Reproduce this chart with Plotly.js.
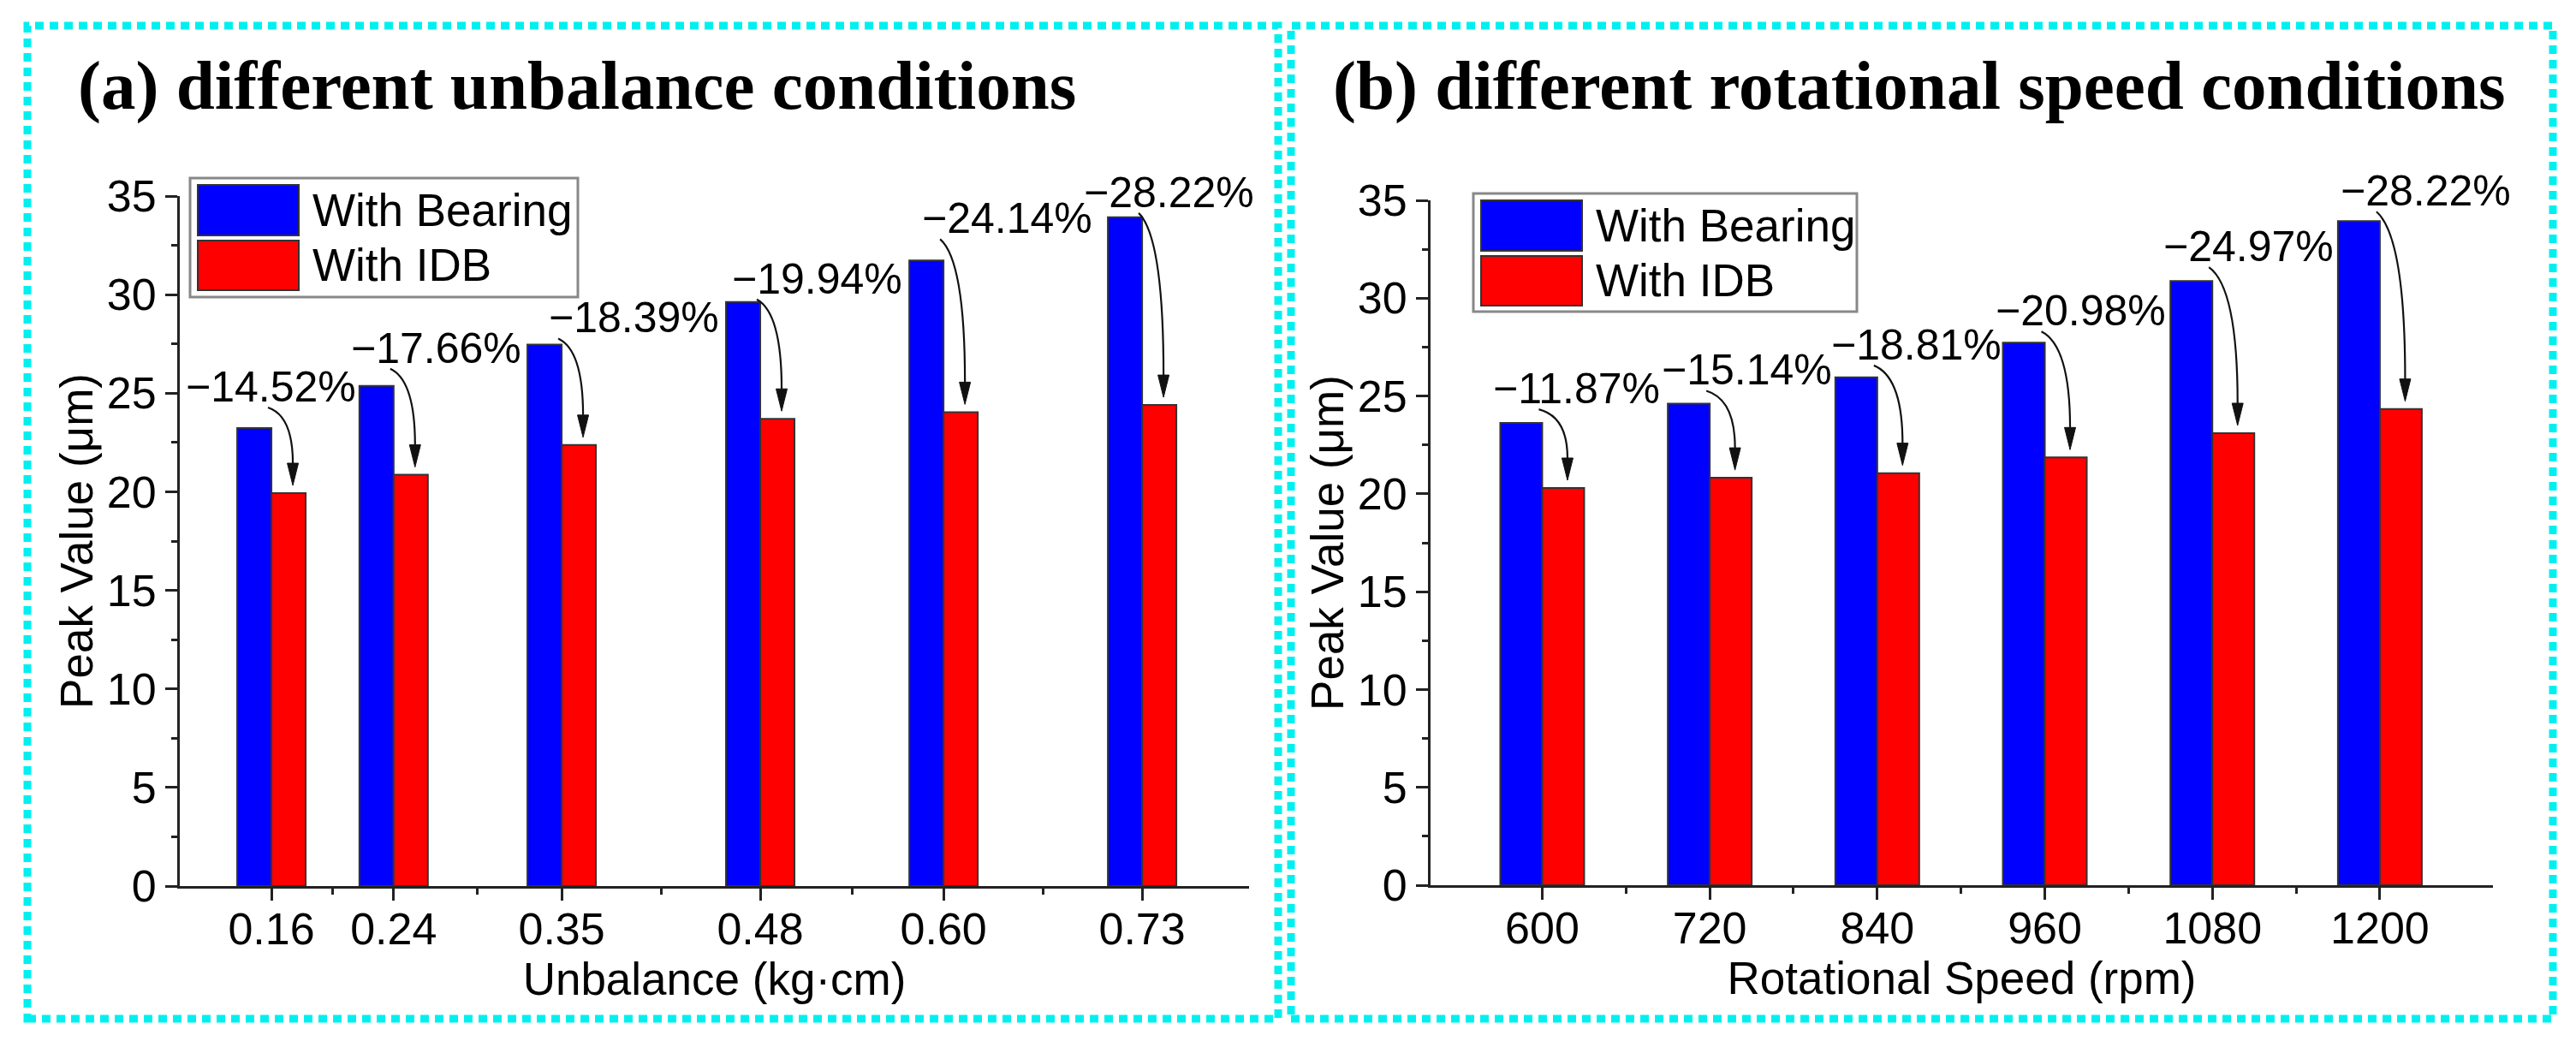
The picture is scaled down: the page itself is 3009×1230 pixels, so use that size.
<!DOCTYPE html>
<html><head><meta charset="utf-8">
<script src="https://cdn.plot.ly/plotly-3.0.1.min.js"></script>
<style>html,body{margin:0;padding:0;background:#fff}#chart{width:3009px;height:1230px}</style>
</head><body><div id="chart"></div>
<script>
// ---------------- data ----------------
const unbalance = [0.16, 0.24, 0.35, 0.48, 0.60, 0.73];
const unbalanceLabels = ['0.16', '0.24', '0.35', '0.48', '0.60', '0.73'];
const bearingUnbalance = [23.23, 25.37, 27.47, 29.63, 31.73, 33.92];
const idbUnbalance = [19.93, 20.86, 22.37, 23.70, 24.04, 24.40];
const reductionUnbalance = ['−14.52%', '−17.66%', '−18.39%', '−19.94%', '−24.14%', '−28.22%'];

const speed = [600, 720, 840, 960, 1080, 1200];
const speedLabels = ['600', '720', '840', '960', '1080', '1200'];
const bearingSpeed = [23.62, 24.61, 25.95, 27.73, 30.88, 33.94];
const idbSpeed = [20.30, 20.82, 21.06, 21.86, 23.10, 24.34];
const reductionSpeed = ['−11.87%', '−15.14%', '−18.81%', '−20.98%', '−24.97%', '−28.22%'];

const seriesNames = ['With Bearing', 'With IDB'];
const panelTitles = ['(a) different unbalance conditions', '(b) different rotational speed conditions'];
const xTitles = ['Unbalance (kg·cm)', 'Rotational Speed (rpm)'];
const yTitle = 'Peak Value (μm)';

// ---------------- layout geometry / style ----------------
const W = 3009, H = 1230;
const FONT = 'Liberation Sans, Arial, sans-serif';
const SERIF = 'Liberation Serif, Times New Roman, serif';
const BLUE = '#0000FF', RED = '#FF0000', INK = '#222222';
const YMAX = 35;

const panels = [
  { x: unbalance, labels: unbalanceLabels, b: bearingUnbalance, r: idbUnbalance, red: reductionUnbalance,
    xPx: [210, 1459], yPx: [1035, 229], xRange: [0.1, 0.8], barPx: 40,
    labelDx: [-1, 50, 84, 66, 74, 31], labelGap: [30, 26, 13, 9, 31, 11],
    legend: { left: 222, top: 208, w: 453, h: 139 }, frame: [32, 30, 1493, 1190],
    title: { x: 89, base: 127 }, xa: 'x', ya: 'y' },
  { x: speed, labels: speedLabels, b: bearingSpeed, r: idbSpeed, red: reductionSpeed,
    xPx: [1671, 2912], yPx: [1034, 234], xRange: [520, 1281], barPx: 49,
    labelDx: [40, 43, 46, 42, 42, 54], labelGap: [22, 21, 20, 19, 22, 17],
    legend: { left: 1721, top: 226, w: 448, h: 138 }, frame: [1508, 30, 2982, 1190],
    title: { x: 1555, base: 127 }, xa: 'x2', ya: 'y2' }
];

const traces = [], shapes = [], annotations = [];
const layout = {
  width: W, height: H, margin: { l: 0, r: 0, t: 0, b: 0 },
  paper_bgcolor: '#ffffff', plot_bgcolor: 'rgba(0,0,0,0)',
  showlegend: false, barmode: 'overlay', font: { family: FONT, color: '#000' }
};

panels.forEach((p, i) => {
  const pxPerX = (p.xPx[1] - p.xPx[0]) / (p.xRange[1] - p.xRange[0]);
  const pxPerY = (p.yPx[0] - p.yPx[1]) / YMAX;
  const w = p.barPx / pxPerX;
  const sfx = i === 0 ? '' : '2';

  traces.push({
    type: 'bar', name: seriesNames[0], x: p.x, y: p.b, width: w, offset: -w,
    marker: { color: BLUE, line: { color: '#333', width: 2 } },
    xaxis: p.xa, yaxis: p.ya, hoverinfo: 'x+y'
  });
  traces.push({
    type: 'bar', name: seriesNames[1], x: p.x, y: p.r, width: w, offset: 0,
    marker: { color: RED, line: { color: '#333', width: 2 } },
    xaxis: p.xa, yaxis: p.ya, hoverinfo: 'x+y'
  });

  const mids = p.x.slice(1).map((v, k) => (v + p.x[k]) / 2);
  layout['xaxis' + sfx] = {
    domain: [p.xPx[0] / W, p.xPx[1] / W], range: p.xRange, anchor: 'y' + sfx,
    tickmode: 'array', tickvals: p.x, ticktext: p.labels,
    ticks: 'outside', ticklen: 14, tickwidth: 3, tickcolor: INK, ticklabelstandoff: -11,
    minor: { tickmode: 'array', tickvals: mids, ticks: 'outside', ticklen: 7, tickwidth: 3, tickcolor: INK },
    showline: true, linecolor: INK, linewidth: 3, showgrid: false, zeroline: false,
    tickfont: { family: FONT, size: 52, color: '#000' },
    title: { text: xTitles[i], standoff: 2, font: { family: FONT, size: 53, color: '#000' } },
    fixedrange: true
  };
  layout['yaxis' + sfx] = {
    domain: [1 - p.yPx[0] / H, 1 - p.yPx[1] / H], range: [0, YMAX], anchor: 'x' + sfx,
    tickmode: 'linear', tick0: 0, dtick: 5,
    ticks: 'outside', ticklen: 14, tickwidth: 3, tickcolor: INK,
    minor: { tick0: 0, dtick: 2.5, ticks: 'outside', ticklen: 7, tickwidth: 3, tickcolor: INK },
    showline: true, linecolor: INK, linewidth: 3, showgrid: false, zeroline: false,
    tickfont: { family: FONT, size: 52, color: '#000' },
    title: { text: yTitle, standoff: 0, font: { family: FONT, size: 53, color: '#000' } },
    fixedrange: true
  };

  // dashed cyan panel frame
  shapes.push({ type: 'rect', xref: 'paper', yref: 'paper', layer: 'below',
    x0: p.frame[0] / W, x1: p.frame[2] / W, y0: 1 - p.frame[3] / H, y1: 1 - p.frame[1] / H,
    line: { color: '#00F0F0', width: 9, dash: '10px,7px' }, fillcolor: 'rgba(0,0,0,0)' });

  // panel title
  annotations.push({ xref: 'paper', yref: 'paper', x: p.title.x / W, y: 1 - (p.title.base + 20) / H,
    xanchor: 'left', yanchor: 'bottom', showarrow: false, text: '<b>' + panelTitles[i] + '</b>',
    font: { family: SERIF, size: 81, color: '#000' } });

  // legend (large swatches)
  const L = p.legend;
  shapes.push({ type: 'rect', xref: 'paper', yref: 'paper',
    x0: L.left / W, x1: (L.left + L.w) / W, y0: 1 - (L.top + L.h) / H, y1: 1 - L.top / H,
    line: { color: '#888', width: 3 }, fillcolor: '#ffffff' });
  [[BLUE, 8, 67], [RED, 73, 131]].forEach(([c, t0, t1], k) => {
    shapes.push({ type: 'rect', xref: 'paper', yref: 'paper',
      x0: (L.left + 9) / W, x1: (L.left + 127) / W, y0: 1 - (L.top + t1) / H, y1: 1 - (L.top + t0) / H,
      line: { color: '#333', width: 2 }, fillcolor: c });
    annotations.push({ xref: 'paper', yref: 'paper', x: (L.left + 141) / W, y: 1 - (L.top + (t0 + t1) / 2) / H,
      xanchor: 'left', yanchor: 'middle', showarrow: false, text: seriesNames[k],
      font: { family: FONT, size: 53, color: '#000' } });
  });

  // reduction labels with curved arrows
  p.x.forEach((cx0, k) => {
    annotations.push({ xref: p.xa, yref: p.ya, x: cx0, y: p.b[k], xanchor: 'center', yanchor: 'bottom',
      xshift: p.labelDx[k], yshift: p.labelGap[k] - 12, showarrow: false, text: p.red[k],
      font: { family: FONT, size: 50, color: '#000' } });
    const sx = cx0 - 4 / pxPerX;
    const sy = p.b[k] + (p.labelGap[k] - 6) / pxPerY;
    const tx = cx0 + w / 2 + 5 / pxPerX;
    const ty = p.r[k] + 9 / pxPerY;
    const by = ty + 26 / pxPerY;
    const cy = sy - 0.15 * (sy - by);
    shapes.push({ type: 'path', xref: p.xa, yref: p.ya,
      path: `M ${sx},${sy} Q ${tx},${cy} ${tx},${by}`,
      line: { color: '#111', width: 2.2 }, fillcolor: 'rgba(0,0,0,0)' });
    shapes.push({ type: 'path', xref: p.xa, yref: p.ya,
      path: `M ${tx},${ty} L ${tx - 6.5 / pxPerX},${by} L ${tx + 6.5 / pxPerX},${by} Z`,
      line: { color: '#111', width: 1 }, fillcolor: '#111' });
  });
});

layout.shapes = shapes;
layout.annotations = annotations;
Plotly.newPlot('chart', traces, layout, { staticPlot: true, displayModeBar: false });
</script>
</body></html>
